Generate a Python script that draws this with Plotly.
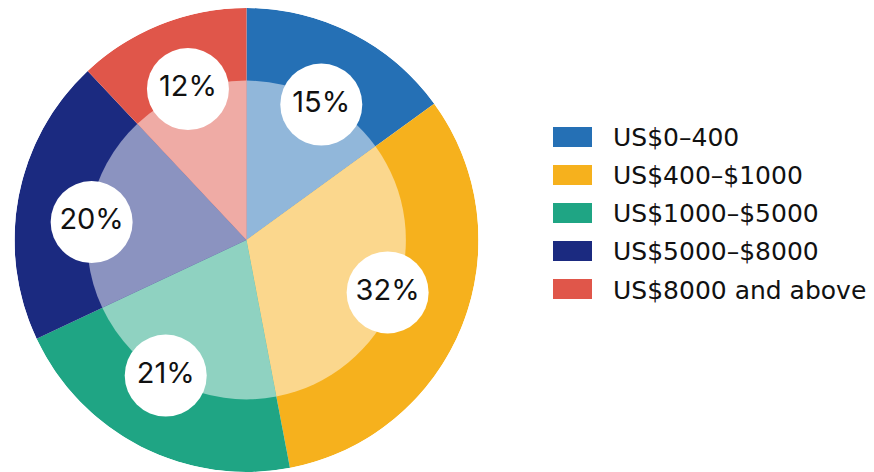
import plotly.graph_objects as go

categories = ["US$0\u2013400", "US$400\u2013$1000", "US$1000\u2013$5000", "US$5000\u2013$8000", "US$8000 and above"]
shares = [15, 32, 21, 20, 12]
labels = ["15%", "32%", "21%", "20%", "12%"]
colors = ["#2570B5", "#F6B11D", "#1FA584", "#1B2A80", "#E0564A"]
light_colors = ["#91B7DA", "#FBD78D", "#8FD2C1", "#8B93C0", "#EFABA5"]
# label bubble placement (radial fraction and angular nudge in degrees)
label_radius = [0.667, 0.649, 0.680, 0.672, 0.698]
label_nudge = [1.9, -1.2, 3.8, -4.2, 0.4]

total = sum(shares)
widths = [s / total * 360 for s in shares]
mids = []
acc = 0
for w in widths:
    mids.append(acc + w / 2)
    acc += w
label_theta = [m + n for m, n in zip(mids, label_nudge)]

W, H = 874, 472
OFF = 8  # page body margin offset

fig = go.Figure()
# outer ring (full color wedges)
fig.add_trace(go.Barpolar(
    r=[1] * len(shares), theta=mids, width=widths,
    marker=dict(color=colors, line=dict(width=0)),
    showlegend=False, hoverinfo="skip"))
# inner lighter wedges
fig.add_trace(go.Barpolar(
    r=[0.687] * len(shares), theta=mids, width=widths,
    marker=dict(color=light_colors, line=dict(width=0)),
    showlegend=False, hoverinfo="skip"))
# white label bubbles
fig.add_trace(go.Scatterpolar(
    r=label_radius, theta=label_theta, mode="markers+text",
    marker=dict(size=82, color="white", line=dict(width=0)),
    text=labels, textposition="middle center",
    textfont=dict(family="Inter", size=29, color="#111111"),
    showlegend=False, hoverinfo="skip"))

fig.update_layout(
    width=W, height=H,
    margin=dict(l=0, r=0, t=0, b=0),
    paper_bgcolor="white",
    polar=dict(
        domain=dict(x=[(13 - OFF) / W, (480 - OFF) / W], y=[1 - (472 - OFF) / H, 1]),
        bgcolor="rgba(0,0,0,0)",
        barmode="overlay", bargap=0,
        radialaxis=dict(visible=False, range=[0, 1]),
        angularaxis=dict(visible=False, rotation=90, direction="clockwise",
                         thetaunit="degrees"),
        hole=0,
    ),
)

# legend drawn as swatches + text
row_centers = [137, 175, 213, 251, 289]
for i, (cat, col) in enumerate(zip(categories, colors)):
    yc = row_centers[i] - OFF
    fig.add_shape(type="rect", xref="paper", yref="paper",
                  x0=(553 - OFF) / W, x1=(592 - OFF) / W,
                  y0=1 - (yc + 10) / H, y1=1 - (yc - 10) / H,
                  fillcolor=col, line=dict(width=0))
    fig.add_annotation(xref="paper", yref="paper", x=(611 - OFF) / W, y=1 - (yc + 1) / H,
                       xanchor="left", yanchor="middle", showarrow=False,
                       text=cat, font=dict(family="DejaVu Sans", size=25, color="#111111"))

fig.write_html("out.html")
